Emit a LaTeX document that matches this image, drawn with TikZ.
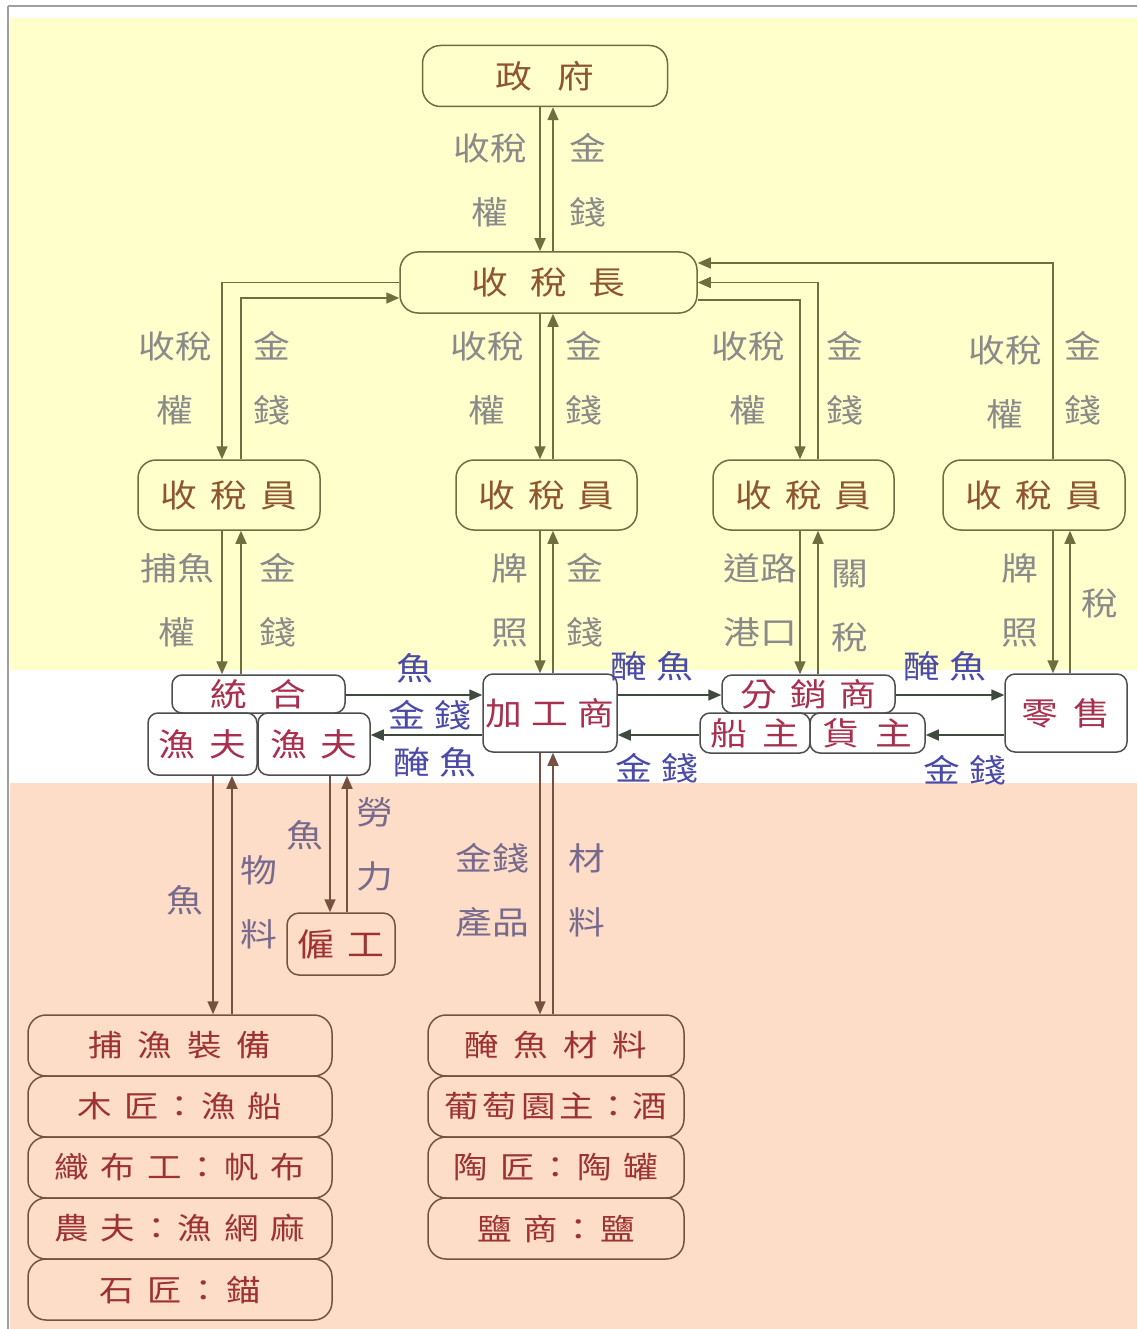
\documentclass[tikz,border=0pt]{standalone}
\usepackage{fontspec}
\setmainfont[FakeStretch=1.15]{Noto Sans CJK TC}
\usetikzlibrary{arrows.meta}
\definecolor{bgY}{HTML}{FFFFCC}
\definecolor{bgP}{HTML}{FDDDC8}
\definecolor{cOl}{HTML}{6E6E3E}
\definecolor{cTY}{HTML}{8E5530}
\definecolor{cLY}{HTML}{8A8A8A}
\definecolor{cBd}{HTML}{4E4E4E}
\definecolor{cTB}{HTML}{A8304E}
\definecolor{cLB}{HTML}{4A4AA8}
\definecolor{cAB}{HTML}{3E4A3E}
\definecolor{cBr}{HTML}{765040}
\definecolor{cTP}{HTML}{9E3232}
\definecolor{cLP}{HTML}{786A8C}
\newcommand\fsz[2]{\fontsize{#1}{#2}\selectfont}
\newcommand\hs[1]{\hspace*{#1pt}}
\tikzset{
  boxY/.style={draw=cOl, line width=1.5pt, rounded corners=18pt, text=cTY, inner sep=0pt, font=\fsz{32}{38}},
  boxB/.style={draw=cBd, line width=1.5pt, rounded corners=10pt, fill=white, text=cTB, inner sep=0pt, font=\fsz{32}{38}},
  boxP/.style={draw=cBr, line width=1.5pt, rounded corners=18pt, text=cTP, inner sep=0pt, font=\fsz{30}{36}},
  arrY/.style={draw=cOl, line width=1.6pt, -{Triangle[length=13pt,width=11pt]}},
  arrB/.style={draw=cAB, line width=1.6pt, -{Triangle[length=13pt,width=11pt]}},
  arrP/.style={draw=cBr, line width=1.6pt, -{Triangle[length=13pt,width=11pt]}},
  lblY/.style={text=cLY, font=\fsz{32}{64}, align=center, inner sep=0pt},
  lblB/.style={text=cLB, font=\fsz{32}{40}, inner sep=0pt},
  lblP/.style={text=cLP, font=\fsz{32}{64}, align=center, inner sep=0pt}
}
\begin{document}
\begin{tikzpicture}[x=1pt,y=-1pt]
\useasboundingbox (0,0) rectangle (1137,1329);
% backgrounds
\fill[white] (0,0) rectangle (1137,1329);
\fill[bgY] (10,18) rectangle (1137,670);
\fill[bgP] (10,783) rectangle (1137,1329);
\draw[gray!75, line width=2pt] (8,6) -- (1137,6);
\draw[gray!75, line width=2pt] (8,6) -- (8,1329);

% helper coordinates (x positions of vertical lines, y positions of horizontal lines)
\coordinate (v213) at (213,0);
\coordinate (v222) at (222,0);
\coordinate (v232) at (232,0);
\coordinate (v241) at (241,0);
\coordinate (v330) at (330,0);
\coordinate (v347) at (347,0);
\coordinate (v540) at (540,0);
\coordinate (v553) at (553,0);
\coordinate (v800) at (800,0);
\coordinate (v818) at (818,0);
\coordinate (v1053) at (1053,0);
\coordinate (v1070) at (1070,0);
\coordinate (h263) at (0,263);
\coordinate (h298) at (0,298);
\coordinate (h300) at (0,300);
\coordinate (h695) at (0,695);
\coordinate (h735) at (0,735);

% yellow region nodes
\node[boxY, minimum width=245pt, minimum height=61pt] (gov) at (545,76) {政\hs{26}府};
\node[boxY, minimum width=297pt, minimum height=61pt] (chief) at (548.5,282.5) {收\hs{22}稅\hs{22}長};
\node[boxY, minimum width=182pt, minimum height=70pt] (colA) at (229,495) {收\hs{13}稅\hs{13}員};
\node[boxY, minimum width=181pt, minimum height=70pt] (colB) at (546.5,495) {收\hs{13}稅\hs{13}員};
\node[boxY, minimum width=181pt, minimum height=70pt] (colC) at (803.5,495) {收\hs{13}稅\hs{13}員};
\node[boxY, minimum width=182pt, minimum height=70pt] (colD) at (1034,495) {收\hs{13}稅\hs{13}員};

% band nodes
\node[boxB, minimum width=173pt, minimum height=38pt] (union) at (258.5,694) {統\hs{22}合};
\node[boxB, minimum width=109pt, minimum height=62pt] (fishA) at (202.5,744) {漁\hs{14}夫};
\node[boxB, minimum width=112pt, minimum height=62pt] (fishB) at (314,744) {漁\hs{14}夫};
\node[boxB, minimum width=134pt, minimum height=78pt] (proc) at (550,713) {加\hs{9}工\hs{9}商};
\node[boxB, minimum width=173pt, minimum height=38pt] (dist) at (808.5,694) {分\hs{13}銷\hs{13}商};
\node[boxB, minimum width=110pt, minimum height=40pt] (ship) at (755,733) {船\hs{16}主};
\node[boxB, minimum width=115pt, minimum height=40pt] (cargo) at (867.5,733) {貨\hs{16}主};
\node[boxB, minimum width=122pt, minimum height=78pt] (retail) at (1066,713) {零\hs{15}售};

% peach region nodes
\node[boxP, rounded corners=12pt, font=\fsz{32}{38}, minimum width=108pt, minimum height=62pt] (hired) at (341,944) {僱\hs{14}工};
\node[boxP, minimum width=304pt, minimum height=61pt] (L1) at (180,1045.5) {捕\hs{15}漁\hs{15}裝\hs{15}備};
\node[boxP, minimum width=304pt, minimum height=61pt] (L2) at (180,1106.5) {木\hs{12}匠\hs{4}：\hs{4}漁\hs{12}船};
\node[boxP, minimum width=304pt, minimum height=61pt] (L3) at (180,1167.5) {織\hs{12}布\hs{12}工\hs{4}：\hs{4}帆\hs{12}布};
\node[boxP, minimum width=304pt, minimum height=61pt] (L4) at (180,1228.5) {農\hs{12}夫\hs{4}：\hs{4}漁\hs{12}網\hs{12}麻};
\node[boxP, minimum width=304pt, minimum height=61pt] (L5) at (180,1289.5) {石\hs{14}匠\hs{5}：\hs{5}錨};
\node[boxP, minimum width=256pt, minimum height=61pt] (R1) at (556,1045.5) {醃\hs{15}魚\hs{15}材\hs{15}料};
\node[boxP, minimum width=256pt, minimum height=61pt] (R2) at (556,1106.5) {葡\hs{4}萄\hs{4}園\hs{4}主\hs{2}：\hs{2}酒};
\node[boxP, minimum width=256pt, minimum height=61pt] (R3) at (556,1167.5) {陶\hs{12}匠\hs{4}：\hs{4}陶\hs{12}罐};
\node[boxP, minimum width=256pt, minimum height=61pt] (R4) at (556,1228.5) {鹽\hs{12}商\hs{4}：\hs{4}鹽};

% connectors: government - chief
\draw[arrY] (gov.south -| v540) -- (chief.north -| v540);
\draw[arrY] (chief.north -| v553) -- (gov.south -| v553);
% chief - collectors
\draw[arrY] (chief.west) -| (colA.north -| v222);
\draw[arrY] (colA.north -| v241) |- (chief.west |- h298);
\draw[arrY] (chief.south -| v540) -- (colB.north -| v540);
\draw[arrY] (colB.north -| v553) -- (chief.south -| v553);
\draw[arrY] (chief.east |- h300) -| (colC.north -| v800);
\draw[arrY] (colC.north -| v818) |- (chief.east);
\draw[arrY] (colD.north -| v1053) |- (chief.east |- h263);
% collectors - band
\draw[arrY] (colA.south -| v222) -- (union.north -| v222);
\draw[arrY] (union.north -| v241) -- (colA.south -| v241);
\draw[arrY] (colB.south -| v540) -- (proc.north -| v540);
\draw[arrY] (proc.north -| v553) -- (colB.south -| v553);
\draw[arrY] (colC.south -| v800) -- (dist.north -| v800);
\draw[arrY] (dist.north -| v818) -- (colC.south -| v818);
\draw[arrY] (colD.south -| v1053) -- (retail.north -| v1053);
\draw[arrY] (retail.north -| v1070) -- (colD.south -| v1070);
% band horizontals
\draw[arrB] (union.east |- h695) -- (proc.west |- h695);
\draw[arrB] (proc.west |- h735) -- (fishB.east |- h735);
\draw[arrB] (proc.east |- h695) -- (dist.west |- h695);
\draw[arrB] (ship.west |- h735) -- (proc.east |- h735);
\draw[arrB] (dist.east |- h695) -- (retail.west |- h695);
\draw[arrB] (retail.west |- h735) -- (cargo.east |- h735);
% lower region
\draw[arrP] (fishA.south -| v213) -- (L1.north -| v213);
\draw[arrP] (L1.north -| v232) -- (fishA.south -| v232);
\draw[arrP] (fishB.south -| v330) -- (hired.north -| v330);
\draw[arrP] (hired.north -| v347) -- (fishB.south -| v347);
\draw[arrP] (proc.south -| v540) -- (R1.north -| v540);
\draw[arrP] (R1.north -| v553) -- (proc.south -| v553);

% labels yellow region
\node[lblY] (t1) at (490,180) {收稅\\權};
\node[lblY] (t2) at (588,180) {金\\錢};
\node[lblY] (a1) at (175,378) {收稅\\權};
\node[lblY] (a2) at (272,378) {金\\錢};
\node[lblY] (b1) at (487,378) {收稅\\權};
\node[lblY] (b2) at (584,378) {金\\錢};
\node[lblY] (c1) at (748,378) {收稅\\權};
\node[lblY] (c2) at (845,378) {金\\錢};
\node[lblY] (d1) at (1005,382) {收稅\\權};
\node[lblY] (d2) at (1083,378) {金\\錢};
\node[lblY] (e1) at (177,600) {捕魚\\權};
\node[lblY] (e2) at (278,600) {金\\錢};
\node[lblY] (f1) at (510,600) {牌\\照};
\node[lblY] (f2) at (585,600) {金\\錢};
\node[lblY] (g1) at (760,600) {道路\\港口};
\node[lblY] (g2) at (850,606) {關\\稅};
\node[lblY] (k1) at (1020,600) {牌\\照};
\node[lblY] (k2) at (1100,603) {稅};
% band labels
\node[lblB] (m1) at (415,668) {魚};
\node[lblB] (m2) at (430,715) {金\hs{10}錢};
\node[lblB] (m3) at (435,762) {醃\hs{10}魚};
\node[lblB] (m4) at (652,666) {醃\hs{10}魚};
\node[lblB] (m5) at (657,768) {金\hs{10}錢};
\node[lblB] (m6) at (945,666) {醃\hs{10}魚};
\node[lblB] (m7) at (965,770) {金\hs{10}錢};
% lower labels
\node[lblP] (p1) at (185,900) {魚};
\node[lblP] (p2) at (259,902) {物\\料};
\node[lblP] (p3) at (305,835) {魚};
\node[lblP] (p4) at (375,844) {勞\\力};
\node[lblP] (p5) at (492,890) {金錢\\產品};
\node[lblP] (p6) at (587,890) {材\\料};
\end{tikzpicture}
\end{document}
